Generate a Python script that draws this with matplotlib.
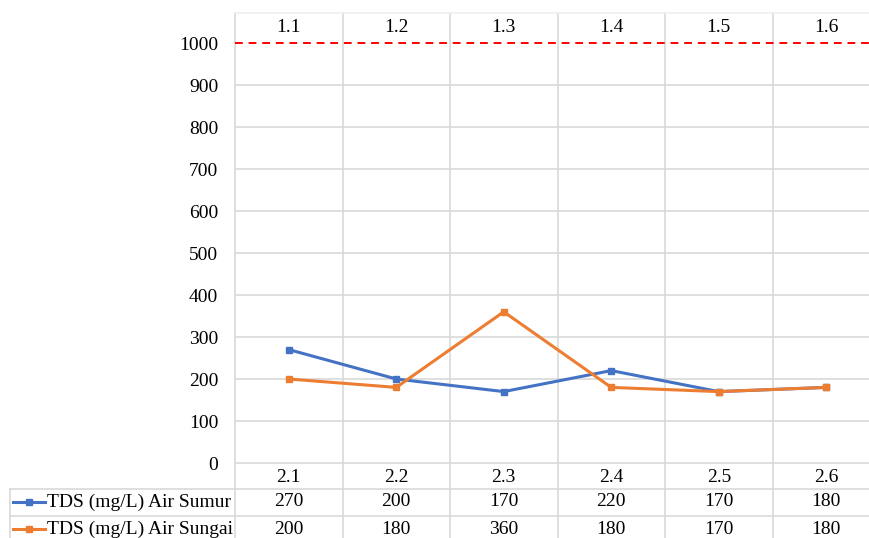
import numpy as np
import matplotlib.pyplot as plt
from matplotlib.transforms import blended_transform_factory

# categories and values
top_labels = ["1.1", "1.2", "1.3", "1.4", "1.5", "1.6"]
bottom_labels = ["2.1", "2.2", "2.3", "2.4", "2.5", "2.6"]
series_names = ["TDS (mg/L) Air Sumur", "TDS (mg/L) Air Sungai"]
sumur = [270, 200, 170, 220, 170, 180]
sungai = [200, 180, 360, 180, 170, 180]
limit_value = 1000
y_ticks = list(range(0, 1001, 100))

colors = ["#4472C4", "#ED7D31"]
grid_c = "#D9D9D9"
plt.rcParams['font.family'] = ['Liberation Serif', 'DejaVu Serif']
fs = 14

W, H = 869, 538
fig = plt.figure(figsize=(W / 100, H / 100), dpi=100)
# plot area in pixels: x 235..880, y 43..463
ax = fig.add_axes([235 / W, 1 - 463 / H, 645 / W, 420 / H])

n = len(top_labels)
x = np.arange(n)
ax.set_xlim(-0.5, n - 0.5)
ax.set_ylim(0, 1000)
for s in ax.spines.values():
    s.set_visible(False)
ax.set_xticks([])
ax.set_yticks(y_ticks)
ax.set_yticklabels([str(v) for v in y_ticks], fontsize=fs)
ax.tick_params(axis='y', length=0, pad=12)

# horizontal gridlines
for v in y_ticks[1:-1]:
    ax.axhline(v, color=grid_c, lw=1.2, zorder=1)

tr = blended_transform_factory(ax.transData, ax.transAxes)
px = 1 / 420  # one pixel in axes fraction (vertical)

def yf(ypix):
    return (463 - ypix) * px

# vertical category boundaries, extended through header and table
for b in np.arange(-0.5, n + 0.5, 1):
    ax.plot([b, b], [yf(538), yf(13)], transform=tr, color=grid_c,
            lw=1.2, clip_on=False, zorder=1)
# header top line
ax.plot([-0.5, n - 0.5], [yf(13), yf(13)], transform=tr, color="#EFEFEF",
        lw=1.2, clip_on=False, zorder=1)
# header labels
for i, lab in enumerate(top_labels):
    ax.text(i, yf(28), lab, transform=tr, ha='center', va='center',
            fontsize=fs, clip_on=False)

# limit line
ax.axhline(limit_value, color="#FF0000", lw=1.4, ls=(0, (4, 3)), zorder=3,
           clip_on=False)

# series
for vals, c in zip([sumur, sungai], colors):
    ax.plot(x, vals, color=c, lw=2.2, marker='s', markersize=5, zorder=4,
            clip_on=False)

# data table below
ax.plot([-0.5, n - 0.5], [0, 0], transform=tr, color=grid_c, lw=1.2,
        clip_on=False)
for i, lab in enumerate(bottom_labels):
    ax.text(i, yf(477), lab, transform=tr, ha='center', va='center',
            fontsize=fs, clip_on=False)

def fx(xpix):
    return xpix / W

def fy(ypix):
    return 1 - ypix / H

for ypix in [489, 516]:
    fig.add_artist(plt.Line2D([fx(10), fx(880)], [fy(ypix), fy(ypix)],
                              color=grid_c, lw=1.2))
fig.add_artist(plt.Line2D([fx(10), fx(10)], [fy(489), fy(538)],
                          color=grid_c, lw=1.2))

row_y = [502, 529]
for name, vals, c, ry in zip(series_names, [sumur, sungai], colors, row_y):
    fig.add_artist(plt.Line2D([fx(13), fx(45)], [fy(ry), fy(ry)],
                              color=c, lw=2.2))
    fig.add_artist(plt.Line2D([fx(29)], [fy(ry)], color=c, marker='s',
                              markersize=5, lw=0))
    fig.text(fx(47), fy(ry), name, ha='left', va='center', fontsize=fs)
    for i, v in enumerate(vals):
        ax.text(i, yf(ry), str(v), transform=tr, ha='center', va='center',
                fontsize=fs, clip_on=False)

fig.savefig("out.png", dpi=100)
